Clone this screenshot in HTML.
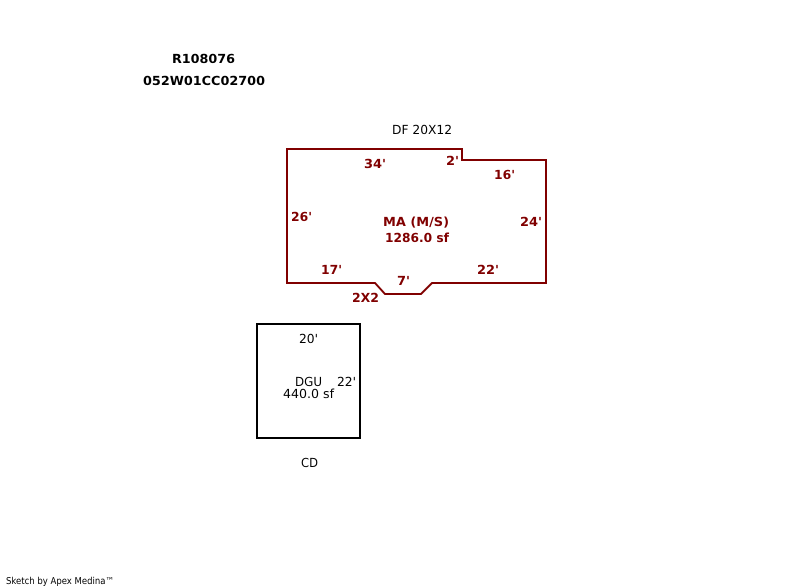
<!DOCTYPE html>
<html><head><meta charset="utf-8"><style>
html,body{margin:0;padding:0;background:#fff;width:800px;height:587px;overflow:hidden}
svg{display:block}
text{font-family:"DejaVu Sans","Liberation Sans",sans-serif;font-size:12px;text-rendering:geometricPrecision}
.r{fill:#800000;font-weight:bold;font-size:12.5px}
.k{fill:#000;font-weight:normal;font-size:12.5px}
.b{fill:#000;font-weight:bold;font-size:12.5px}
</style></head><body>
<svg width="800" height="587" viewBox="0 0 800 587" xmlns="http://www.w3.org/2000/svg">
<polygon points="287,149 462,149 462,160 546,160 546,283 432,283 421,294 385,294 375,283 287,283" fill="none" stroke="#800000" stroke-width="2"/>
<rect x="257" y="324" width="103" height="114" fill="none" stroke="#000" stroke-width="2"/>
<text class="b" x="172" y="63" textLength="63" lengthAdjust="spacingAndGlyphs">R108076</text>
<text class="b" x="143" y="85" textLength="122" lengthAdjust="spacingAndGlyphs">052W01CC02700</text>
<text class="k" x="392" y="134" textLength="60" lengthAdjust="spacingAndGlyphs">DF 20X12</text>
<text class="r" x="364" y="168" textLength="22" lengthAdjust="spacingAndGlyphs">34'</text>
<text class="r" x="446" y="165" textLength="13" lengthAdjust="spacingAndGlyphs">2'</text>
<text class="r" x="494" y="179" textLength="21" lengthAdjust="spacingAndGlyphs">16'</text>
<text class="r" x="291" y="221" textLength="21" lengthAdjust="spacingAndGlyphs">26'</text>
<text class="r" x="520" y="226" textLength="22" lengthAdjust="spacingAndGlyphs">24'</text>
<text class="r" x="383" y="226" textLength="66" lengthAdjust="spacingAndGlyphs">MA (M/S)</text>
<text class="r" x="385" y="242" textLength="64" lengthAdjust="spacingAndGlyphs">1286.0 sf</text>
<text class="r" x="321" y="274" textLength="21" lengthAdjust="spacingAndGlyphs">17'</text>
<text class="r" x="477" y="274" textLength="22" lengthAdjust="spacingAndGlyphs">22'</text>
<text class="r" x="397" y="285" textLength="13" lengthAdjust="spacingAndGlyphs">7'</text>
<text class="r" x="352" y="302" textLength="27" lengthAdjust="spacingAndGlyphs">2X2</text>
<text class="k" x="299" y="343" textLength="19" lengthAdjust="spacingAndGlyphs">20'</text>
<text class="k" x="295" y="386" textLength="27" lengthAdjust="spacingAndGlyphs">DGU</text>
<text class="k" x="337" y="386" textLength="19" lengthAdjust="spacingAndGlyphs">22'</text>
<text class="k" x="283" y="398" textLength="51" lengthAdjust="spacingAndGlyphs">440.0 sf</text>
<text class="k" x="301" y="467" textLength="17" lengthAdjust="spacingAndGlyphs">CD</text>
<text x="6" y="584" fill="#000" style="font-size:9.5px" textLength="108" lengthAdjust="spacingAndGlyphs">Sketch by Apex Medina™</text>
</svg>
</body></html>
